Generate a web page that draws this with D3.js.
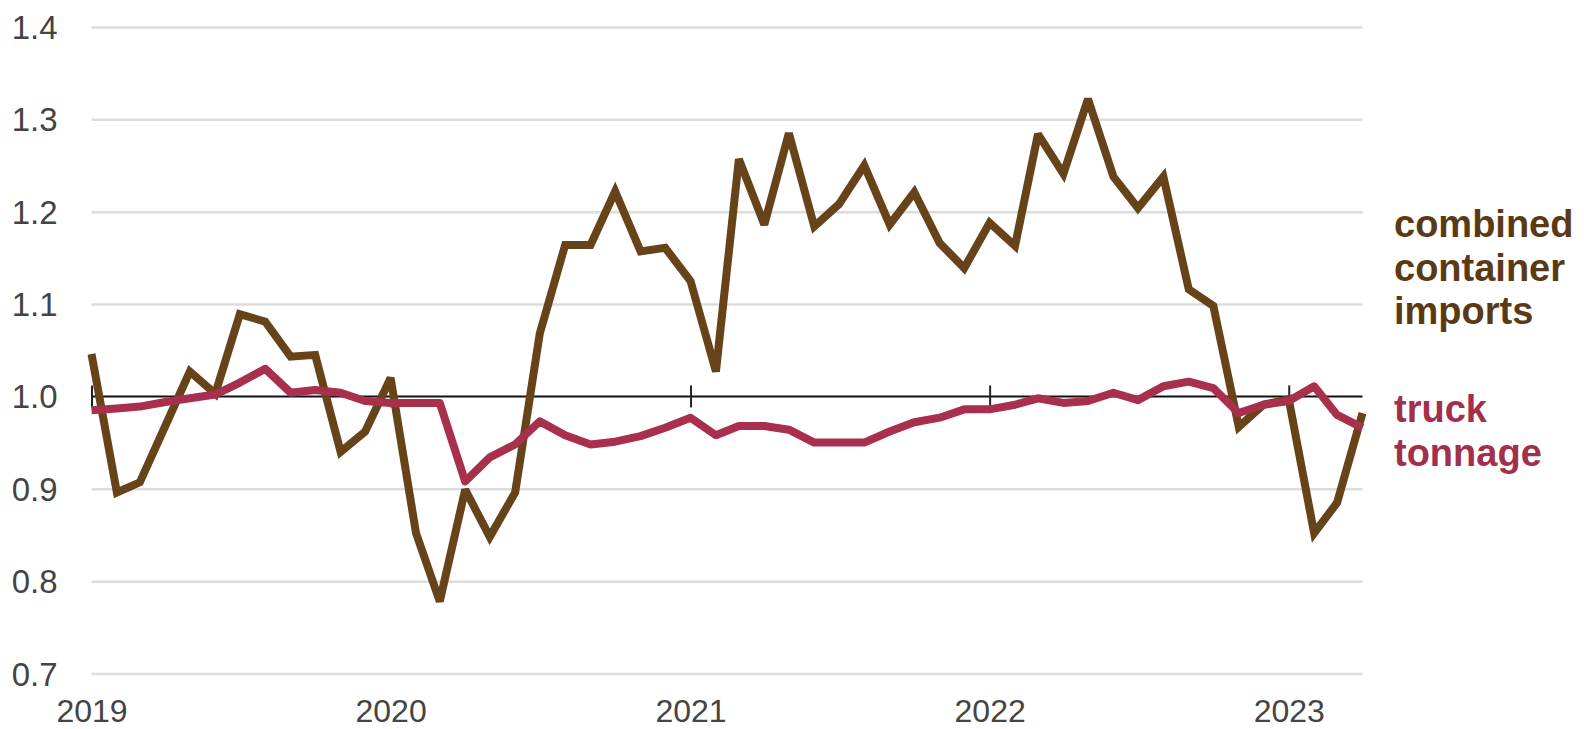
<!DOCTYPE html>
<html>
<head>
<meta charset="utf-8">
<script src="https://cdn.jsdelivr.net/npm/d3@7"></script>
<style>
  html, body { margin: 0; padding: 0; background: #ffffff; }
  svg { display: block; }
  text { font-family: "Liberation Sans", Arial, sans-serif; }
</style>
</head>
<body>
<svg id="chart" width="1584" height="729"></svg>
<script>
// ---- data ----
const startMonth = "2019-01";
const endMonth = "2023-04";
const containerImports = [
  1.046, 0.896, 0.907, 0.968, 1.027, 1.003, 1.089, 1.081, 1.043, 1.045, 0.940, 0.962,
  1.020, 0.852, 0.778, 0.899, 0.848, 0.896, 1.068, 1.164, 1.164, 1.222, 1.157, 1.161,
  1.125, 1.027, 1.257, 1.186, 1.285, 1.184, 1.208, 1.250, 1.186, 1.221, 1.166, 1.139,
  1.188, 1.163, 1.284, 1.241, 1.322, 1.238, 1.204, 1.238, 1.116, 1.098, 0.967, 0.991,
  0.997, 0.852, 0.885, 0.982
];
const truckTonnage = [
  0.985, 0.987, 0.989, 0.994, 0.998, 1.002, 1.015, 1.030, 1.004, 1.007, 1.004, 0.995,
  0.993, 0.993, 0.993, 0.908, 0.934, 0.948, 0.973, 0.958, 0.948, 0.951, 0.957, 0.966,
  0.977, 0.958, 0.968, 0.968, 0.964, 0.950, 0.950, 0.950, 0.962, 0.972, 0.977, 0.986,
  0.986, 0.991, 0.998, 0.993, 0.995, 1.004, 0.996, 1.011, 1.016, 1.009, 0.982, 0.991,
  0.995, 1.011, 0.980, 0.966
];
const yTicks = [0.7, 0.8, 0.9, 1.0, 1.1, 1.2, 1.3, 1.4];
const yearTicks = ["2019", "2020", "2021", "2022", "2023"];
const containerLabel = ["combined", "container", "imports"];
const truckLabel = ["truck", "tonnage"];

// ---- setup ----
const parseMonth = d3.timeParse("%Y-%m");
const parseYear = d3.timeParse("%Y");
const months = d3.timeMonth.range(parseMonth(startMonth), d3.timeMonth.offset(parseMonth(endMonth), 1));

const svg = d3.select("#chart");
const plotLeft = 91.5, plotRight = 1362.5, plotTop = 27, plotBottom = 673.5;

const x = d3.scaleTime().domain([months[0], months[months.length - 1]]).range([plotLeft, plotRight]);
const y = d3.scaleLinear().domain([0.7, 1.4]).range([plotBottom, plotTop]);

// gridlines + y labels
const yAxis = d3.axisLeft(y)
  .tickValues(yTicks)
  .tickFormat(d3.format(".1f"))
  .tickSize(-(plotRight - plotLeft))
  .tickPadding(34);
const gy = svg.append("g").attr("transform", `translate(${plotLeft},0)`).call(yAxis);
gy.select(".domain").remove();
gy.selectAll(".tick line")
  .attr("stroke", d => d === 1.0 ? "none" : "#dcdcdc")
  .attr("stroke-width", 2.5);
gy.selectAll(".tick text")
  .attr("fill", "#444")
  .attr("font-size", 33)
  .attr("dy", "0.35em");

// x labels
const xAxis = d3.axisBottom(x)
  .tickValues(yearTicks.map(parseYear))
  .tickFormat(d3.timeFormat("%Y"))
  .tickSize(0)
  .tickPadding(0);
const gx = svg.append("g").attr("transform", `translate(0,${plotBottom})`).call(xAxis);
gx.select(".domain").remove();
gx.selectAll(".tick text")
  .attr("fill", "#444")
  .attr("font-size", 32)
  .attr("dy", null)
  .attr("y", 48);

// baseline at 1.0 with year ticks
svg.append("line")
  .attr("x1", plotLeft).attr("x2", plotRight)
  .attr("y1", y(1.0)).attr("y2", y(1.0))
  .attr("stroke", "#111").attr("stroke-width", 2);
const tickAxis = d3.axisBottom(x)
  .tickValues(yearTicks.map(parseYear))
  .tickFormat("")
  .tickSize(22);
const gt = svg.append("g").attr("transform", `translate(0,${y(1.0) - 11})`).call(tickAxis);
gt.select(".domain").remove();
gt.selectAll(".tick line").attr("stroke", "#222").attr("stroke-width", 2);

// lines
const line = d3.line().x((d, i) => x(months[i])).y(d => y(d));
svg.append("path")
  .datum(containerImports)
  .attr("d", line)
  .attr("fill", "none")
  .attr("stroke", "#664318")
  .attr("stroke-width", 8)
  .attr("stroke-linejoin", "miter")
  .attr("stroke-miterlimit", 2.5);
svg.append("path")
  .datum(truckTonnage)
  .attr("d", line)
  .attr("fill", "none")
  .attr("stroke", "#a8304c")
  .attr("stroke-width", 8)
  .attr("stroke-linejoin", "round");

// labels
const lab1 = svg.append("text")
  .attr("x", 1394).attr("y", 237)
  .attr("font-size", 38).attr("font-weight", "bold").attr("fill", "#5a3a15");
lab1.selectAll("tspan").data(containerLabel).join("tspan")
  .attr("x", 1394).attr("dy", (d, i) => i === 0 ? 0 : 43.5).text(d => d);
const lab2 = svg.append("text")
  .attr("x", 1394).attr("y", 422)
  .attr("font-size", 38).attr("font-weight", "bold").attr("fill", "#a2304a");
lab2.selectAll("tspan").data(truckLabel).join("tspan")
  .attr("x", 1394).attr("dy", (d, i) => i === 0 ? 0 : 43.5).text(d => d);
</script>
</body>
</html>
